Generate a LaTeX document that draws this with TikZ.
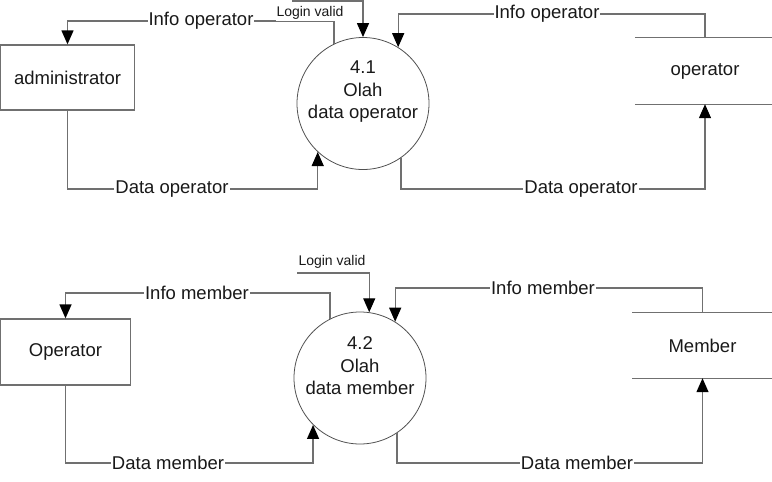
\documentclass[tikz,border=0pt]{standalone}
\usepackage{fontspec}
\setmainfont{Liberation Sans}
\usetikzlibrary{arrows.meta}
\definecolor{ln}{RGB}{112,112,112}
\definecolor{cl}{RGB}{80,80,80}
\definecolor{tx}{RGB}{25,25,25}
\begin{document}
\begin{tikzpicture}[x=1pt,y=-1pt,
  flow/.style={draw=ln,line width=1.3pt,-{Triangle[length=14pt,width=12pt,color=black]}},
  line/.style={draw=ln,line width=1.3pt},
  ent/.style={draw=ln,line width=1.3pt,rectangle,inner sep=0pt,text=tx,font=\fontsize{18.5}{21}\selectfont},
  proc/.style={draw=cl,line width=0.8pt,circle,inner sep=0pt,minimum size=132pt},
  ptext/.style={align=center,text=tx,font=\fontsize{18.5}{22.5}\selectfont,inner sep=0pt},
  store/.style={rectangle,inner sep=0pt,text=tx,font=\fontsize{18.5}{21}\selectfont},
  lbl/.style={fill=white,inner sep=1pt,text=tx,font=\fontsize{18.5}{21}\selectfont},
  slbl/.style={fill=white,inner sep=1pt,text=tx,font=\fontsize{14}{16}\selectfont}]
\useasboundingbox (0,0) rectangle (772,482);

% ---------- top part ----------
\node[ent,minimum width=134pt,minimum height=65pt] (a1) at (67.5,77.5) {administrator};
\node[proc] (p1) at (363,103.5) {};
\node[ptext] (p1t) at (363,92) {4.1\\Olah\\data operator};
\node[store,minimum width=140pt,minimum height=66pt] (s1) at (705,71) {operator};
\draw[line] (s1.north west) -- (s1.north east);
\draw[line] (s1.south west) -- (s1.south east);
\coordinate (lv1) at (292,1);

\draw[flow] (p1.116) -- (p1.116 |- 0,21) -| (a1.north);
\draw[flow] (lv1) -| (p1.north);
\draw[flow] (s1.north) -- (s1.north |- 0,14) -| (p1.58);
\draw[flow] (a1.south) -- (a1.south |- 0,189) -| (p1.-133);
\draw[flow] (p1.-55) -- (p1.-55 |- 0,189) -| (s1.south);

\node[lbl] (l1) at (201,21) {Info operator};
\node[slbl] (l2) at (310,13) {Login valid};
\node[lbl] (l3) at (547,14) {Info operator};
\node[lbl] (l4) at (172,189) {Data operator};
\node[lbl] (l5) at (581,189) {Data operator};

% ---------- bottom part ----------
\node[ent,minimum width=130pt,minimum height=66pt] (a2) at (65.5,352) {Operator};
\node[proc] (p2) at (360,378) {};
\node[ptext] (p2t) at (360,366) {4.2\\Olah\\data member};
\node[store,minimum width=140pt,minimum height=65pt] (s2) at (702.5,345.5) {Member};
\draw[line] (s2.north west) -- (s2.north east);
\draw[line] (s2.south west) -- (s2.south east);
\coordinate (lv2) at (297,273);

\draw[flow] (p2.117) -- (p2.117 |- 0,293) -| (a2.north);
\draw[flow] (lv2) -| (p2.82);
\draw[flow] (s2.north) -- (s2.north |- 0,288) -| (p2.58);
\draw[flow] (a2.south) -- (a2.south |- 0,463) -| (p2.-135);
\draw[flow] (p2.-56) -- (p2.-56 |- 0,463) -| (s2.south);

\node[lbl] (m1) at (197,293) {Info member};
\node[slbl] (m2) at (332,262) {Login valid};
\node[lbl] (m3) at (543,288) {Info member};
\node[lbl] (m4) at (168,463) {Data member};
\node[lbl] (m5) at (577,463) {Data member};
\end{tikzpicture}
\end{document}
